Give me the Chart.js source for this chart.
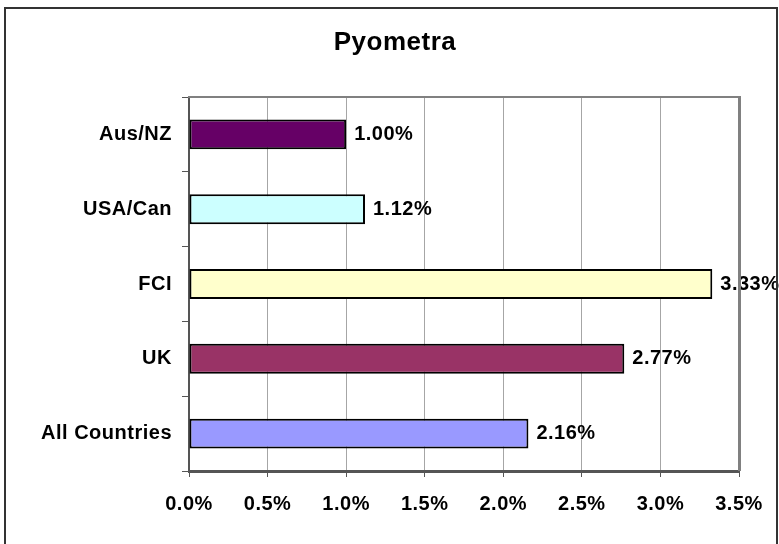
<!DOCTYPE html>
<html>
<head>
<meta charset="utf-8">
<script src="https://cdn.jsdelivr.net/npm/chart.js@4/dist/chart.umd.min.js"></script>
<style>
  html, body { margin: 0; padding: 0; background: #fff; }
  canvas { display: block; }
</style>
</head>
<body>
<canvas id="myChart" width="779" height="544"></canvas>
<script>
// data
const categories = ['Aus/NZ', 'USA/Can', 'FCI', 'UK', 'All Countries']
const values = [1.00, 1.12, 3.33, 2.77, 2.16]
const barColors = ['#660066', '#CCFFFF', '#FFFFCC', '#993366', '#9999FF']
const chartTitle = 'Pyometra'
const xMin = 0
const xMax = 3.5
const xStep = 0.5

const fontFamily = 'Liberation Sans, Arial, sans-serif'
const labelFont = { family: fontFamily, size: 20, weight: 'bold' }

// the original text runs a little wide
const spacing = {
    id: 'spacing',
    beforeUpdate(chart) { chart.ctx.letterSpacing = '0.5px' },
    beforeDraw(chart) { chart.ctx.letterSpacing = '0.5px' }
}

const titleAndLabels = {
    id: 'titleAndLabels',
    afterDatasetsDraw(chart) {
        const ctx = chart.ctx
        const meta = chart.getDatasetMeta(0)
        ctx.save()
        ctx.fillStyle = '#000'
        ctx.textBaseline = 'middle'
        ctx.font = 'bold 20px ' + fontFamily
        ctx.textAlign = 'left'
        meta.data.forEach((bar, i) => {
            ctx.fillText(values[i].toFixed(2) + '%', bar.x + 8, bar.y)
        })
        ctx.font = 'bold 26px ' + fontFamily
        ctx.textAlign = 'center'
        ctx.fillText(chartTitle, 395, 43)
        ctx.restore()
    }
}

const frame = {
    id: 'frame',
    afterDraw(chart) {
        const ctx = chart.ctx
        const a = chart.chartArea
        ctx.save()
        // plot area top and right edges
        ctx.strokeStyle = '#808080'
        ctx.lineWidth = 2
        ctx.beginPath()
        ctx.moveTo(a.left - 1, a.top)
        ctx.lineTo(a.right + 1, a.top)
        ctx.stroke()
        ctx.lineWidth = 3
        ctx.beginPath()
        ctx.moveTo(a.right + 0.5, a.top - 1)
        ctx.lineTo(a.right + 0.5, a.bottom)
        ctx.stroke()
        // outer chart border
        ctx.strokeStyle = '#333'
        ctx.lineWidth = 2
        ctx.beginPath()
        ctx.moveTo(5, 544)
        ctx.lineTo(5, 8)
        ctx.lineTo(777, 8)
        ctx.lineTo(777, 544)
        ctx.stroke()
        ctx.restore()
    }
}

const ctx = document.getElementById('myChart').getContext('2d')

new Chart(ctx, {
    type: 'bar',
    data: {
        labels: categories,
        datasets: [{
            data: values,
            backgroundColor: barColors,
            borderColor: '#000',
            borderWidth: 2,
            borderSkipped: false,
            barPercentage: 0.4,
            categoryPercentage: 1
        }]
    },
    options: {
        indexAxis: 'y',
        responsive: false,
        animation: false,
        devicePixelRatio: 1,
        layout: { padding: { left: 0, right: 40, top: 97, bottom: 0 } },
        plugins: {
            legend: { display: false },
            tooltip: { enabled: false },
            title: { display: false }
        },
        scales: {
            x: {
                min: xMin,
                max: xMax,
                ticks: {
                    stepSize: xStep,
                    color: '#000',
                    font: labelFont,
                    padding: 15,
                    maxRotation: 0,
                    callback: v => v.toFixed(1) + '%'
                },
                grid: { color: '#a6a6a6', lineWidth: 1, tickLength: 6, tickColor: '#555' },
                border: { color: '#555', width: 3 },
                afterFit: s => { s.height = 73 }
            },
            y: {
                ticks: { color: '#000', font: labelFont, padding: 10 },
                grid: { drawOnChartArea: false, tickLength: 7, tickColor: '#555', offset: true },
                border: { color: '#555', width: 2 },
                afterFit: s => { s.width = 189 }
            }
        }
    },
    plugins: [spacing, titleAndLabels, frame]
})
</script>
</body>
</html>
